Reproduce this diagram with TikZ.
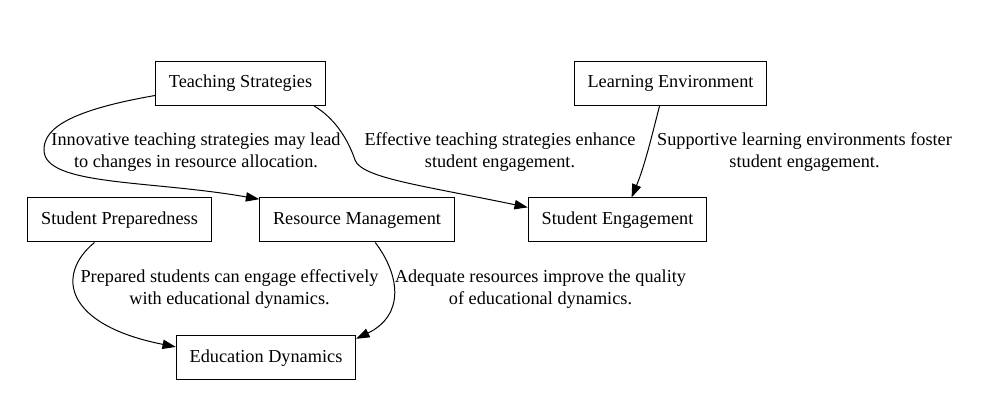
\documentclass[tikz,border=0pt]{standalone}
\usepackage{fontspec}
\setmainfont{Liberation Serif}
\usepackage{tikz}
\usetikzlibrary{arrows.meta, positioning}
\tikzset{
	entity/.style   ={rectangle, draw=black, line width=0.75pt, minimum height=33pt, inner xsep=10pt, align=center, fill=white},
	edgelabel/.style={align=center, inner sep=0pt},
	link/.style     ={-{Triangle[length=10pt, width=7pt]}, line width=0.75pt},
}

\begin{document}
\begin{tikzpicture}[x=0.75pt, y=-0.75pt, font=\fontsize{13.7}{16.5}\selectfont]
	\useasboundingbox (0,0) rectangle (993,409);
	% nodes
	\node[entity] (teach)   at (240.5,83.5) {Teaching Strategies};
	\node[entity] (env)     at (670.5,83.5) {Learning Environment};
	\node[entity] (prep)    at (119.5,220)  {Student Preparedness};
	\node[entity] (res)     at (357,220)    {Resource Management};
	\node[entity] (engage)  at (617.5,220)  {Student Engagement};
	\node[entity] (dyn)     at (266,358)    {Education Dynamics};
	% edges
	\draw[link] (teach.188) .. controls (60,112) and (44,132) .. (44,150)
		.. controls (44,186) and (150,180) .. (res.168);
	\draw[link] (teach.-17) .. controls (338,120) and (350,145) .. (355,160)
		.. controls (362,178) and (420,185) .. (engage.172);
	\draw[link] (env.-116) .. controls (652,135) and (645,165) .. (engage.58);
	\draw[link] (prep.-138) .. controls (55,275) and (65,325) .. (dyn.173);
	\draw[link] (res.-51) .. controls (400,275) and (405,315) .. (dyn.12);
	% labels
	\node[edgelabel] (l1) at (196,152)   {Innovative teaching strategies may lead\\to changes in resource allocation.};
	\node[edgelabel] (l2) at (500,152)   {Effective teaching strategies enhance\\student engagement.};
	\node[edgelabel] (l3) at (804.5,152) {Supportive learning environments foster\\student engagement.};
	\node[edgelabel] (l4) at (229.5,289) {Prepared students can engage effectively\\with educational dynamics.};
	\node[edgelabel] (l5) at (540.5,289) {Adequate resources improve the quality\\of educational dynamics.};
\end{tikzpicture}
\end{document}
